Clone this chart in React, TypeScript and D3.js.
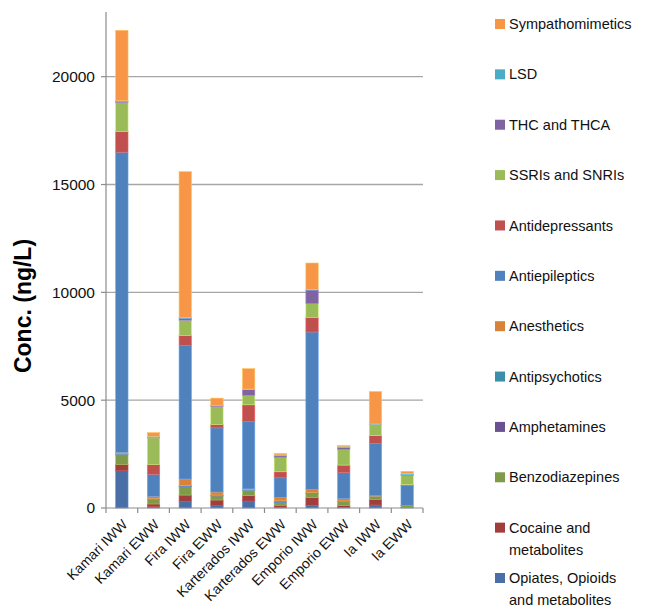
import * as d3 from "d3";

const categories = [
  "Kamari IWW",
  "Kamari EWW",
  "Fira IWW",
  "Fira EWW",
  "Karterados IWW",
  "Karterados EWW",
  "Emporio IWW",
  "Emporio EWW",
  "Ia IWW",
  "Ia EWW",
];

// series, bottom to top of each stack
const seriesNames = [
  "Opiates, Opioids and metabolites",
  "Cocaine and metabolites",
  "Benzodiazepines",
  "Amphetamines",
  "Antipsychotics",
  "Anesthetics",
  "Antiepileptics",
  "Antidepressants",
  "SSRIs and SNRIs",
  "THC and THCA",
  "LSD",
  "Sympathomimetics",
];

const opiates = [1730, 60, 310, 110, 325, 40, 125, 30, 140, 15];
const cocaine = [290, 125, 290, 260, 250, 90, 355, 95, 265, 20];
const benzodiazepines = [450, 200, 385, 185, 230, 110, 200, 170, 125, 70];
const amphetamines = [20, 20, 30, 25, 20, 30, 20, 15, 10, 5];
const antipsychotics = [20, 20, 20, 20, 15, 60, 15, 15, 10, 5];
const anesthetics = [70, 110, 310, 140, 45, 165, 150, 110, 20, 10];
const antiepileptics = [13920, 1030, 6195, 2975, 3125, 905, 7295, 1215, 2430, 925];
const antidepressants = [960, 450, 465, 155, 775, 280, 680, 340, 360, 30];
const ssris = [1345, 1235, 700, 835, 435, 665, 635, 725, 510, 430];
const thc = [60, 30, 100, 40, 265, 75, 635, 95, 15, 40];
const lsd = [20, 45, 30, 20, 30, 45, 30, 45, 10, 45];
const sympathomimetics = [3265, 170, 6760, 330, 945, 70, 1220, 45, 1505, 105];

const seriesValues = [
  opiates,
  cocaine,
  benzodiazepines,
  amphetamines,
  antipsychotics,
  anesthetics,
  antiepileptics,
  antidepressants,
  ssris,
  thc,
  lsd,
  sympathomimetics,
];

const yTicks = [0, 5000, 10000, 15000, 20000];

const COLORS = [
  "#4a6fa6",
  "#a03e3c",
  "#7f9a48",
  "#6a5190",
  "#3c8fa8",
  "#d9823a",
  "#4f81bd",
  "#c0504d",
  "#9bbb59",
  "#8064a2",
  "#4bacc6",
  "#f79646",
];

// legend text lines (long names wrap like the original)
const legendLines: Record<string, string[]> = {
  "Opiates, Opioids and metabolites": ["Opiates, Opioids", "and metabolites"],
  "Cocaine and metabolites": ["Cocaine and", "metabolites"],
};

const FONT = "'Liberation Sans', Arial, Helvetica, sans-serif";
const GRID = "#a6a6a6";
const AXIS = "#8c8c8c";

export default function App() {
  const W = 657;
  const H = 607;
  const plot = { left: 106, right: 423, top: 12, bottom: 508 };

  const table = categories.map((c, i) => {
    const row: Record<string, number | string> = { category: c };
    seriesNames.forEach((s, j) => (row[s] = seriesValues[j][i]));
    return row;
  });

  const stacked = d3
    .stack<Record<string, number | string>>()
    .keys(seriesNames)
    .value((d, k) => d[k] as number)(table);

  const x = d3
    .scaleBand<string>()
    .domain(categories)
    .range([plot.left, plot.right])
    .paddingInner(0.61)
    .paddingOuter(0.305);

  const y = d3.scaleLinear().domain([0, 23000]).range([plot.bottom, plot.top]);

  const step = x.step();
  const tickXs = d3.range(categories.length + 1).map((i) => plot.left + i * step);

  const legendOrder = seriesNames.slice().reverse();
  const legendY = d3
    .scalePoint<string>()
    .domain(legendOrder)
    .range([24, 578]);

  return (
    <svg
      width={W}
      height={H}
      style={{ position: "absolute", left: 0, top: 0, background: "#fff" }}
      fontFamily={FONT}
    >
      {/* gridlines */}
      {yTicks
        .filter((t) => t > 0)
        .map((t) => (
          <line
            key={t}
            x1={plot.left}
            x2={plot.right}
            y1={y(t)}
            y2={y(t)}
            stroke={GRID}
            strokeWidth={1.3}
          />
        ))}

      {/* bars */}
      {stacked.map((layer, j) => (
        <g key={layer.key}>
          {layer.map((d, i) => {
            const h = y(d[0]) - y(d[1]);
            if (h <= 0) return null;
            return (
              <rect
                key={i}
                x={x(categories[i])}
                y={y(d[1])}
                width={x.bandwidth()}
                height={h}
                fill={COLORS[j]}
                stroke={d3.color(COLORS[j])!.brighter(0.7).formatHex()}
                strokeWidth={0.6}
              />
            );
          })}
        </g>
      ))}

      {/* y axis */}
      <line x1={plot.left} x2={plot.left} y1={plot.top} y2={plot.bottom} stroke={AXIS} strokeWidth={1.2} />
      {yTicks.map((t) => (
        <g key={t}>
          <line x1={plot.left - 5} x2={plot.left} y1={y(t)} y2={y(t)} stroke={AXIS} strokeWidth={1.2} />
          <text
            x={plot.left - 11}
            y={y(t)}
            dy="0.35em"
            textAnchor="end"
            fontSize={15.5}
            fill="#111"
          >
            {t}
          </text>
        </g>
      ))}

      {/* x axis */}
      <line x1={plot.left} x2={plot.right} y1={plot.bottom} y2={plot.bottom} stroke={AXIS} strokeWidth={1.2} />
      {tickXs.map((tx, i) => (
        <line key={i} x1={tx} x2={tx} y1={plot.bottom} y2={plot.bottom + 5} stroke={AXIS} strokeWidth={1.2} />
      ))}
      {categories.map((c) => (
        <text
          key={c}
          transform={`translate(${x(c)! + x.bandwidth() / 2 + 3},${plot.bottom + 14}) rotate(-45)`}
          textAnchor="end"
          dy="0.35em"
          fontSize={14}
          fill="#111"
        >
          {c}
        </text>
      ))}

      {/* y axis title */}
      <text
        transform={`translate(31,306) rotate(-90)`}
        textAnchor="middle"
        fontSize={23}
        fontWeight="bold"
        fill="#000"
      >
        Conc. (ng/L)
      </text>

      {/* legend */}
      {legendOrder.map((s) => {
        const j = seriesNames.indexOf(s);
        const ly = legendY(s)!;
        const lines = legendLines[s] ?? [s];
        return (
          <g key={s}>
            <rect x={495} y={ly - 5} width={10} height={10} fill={COLORS[j]} />
            {lines.map((ln, k) => (
              <text key={k} x={509} y={ly + k * 22} dy="0.35em" fontSize={14.5} fill="#111">
                {ln}
              </text>
            ))}
          </g>
        );
      })}
    </svg>
  );
}
